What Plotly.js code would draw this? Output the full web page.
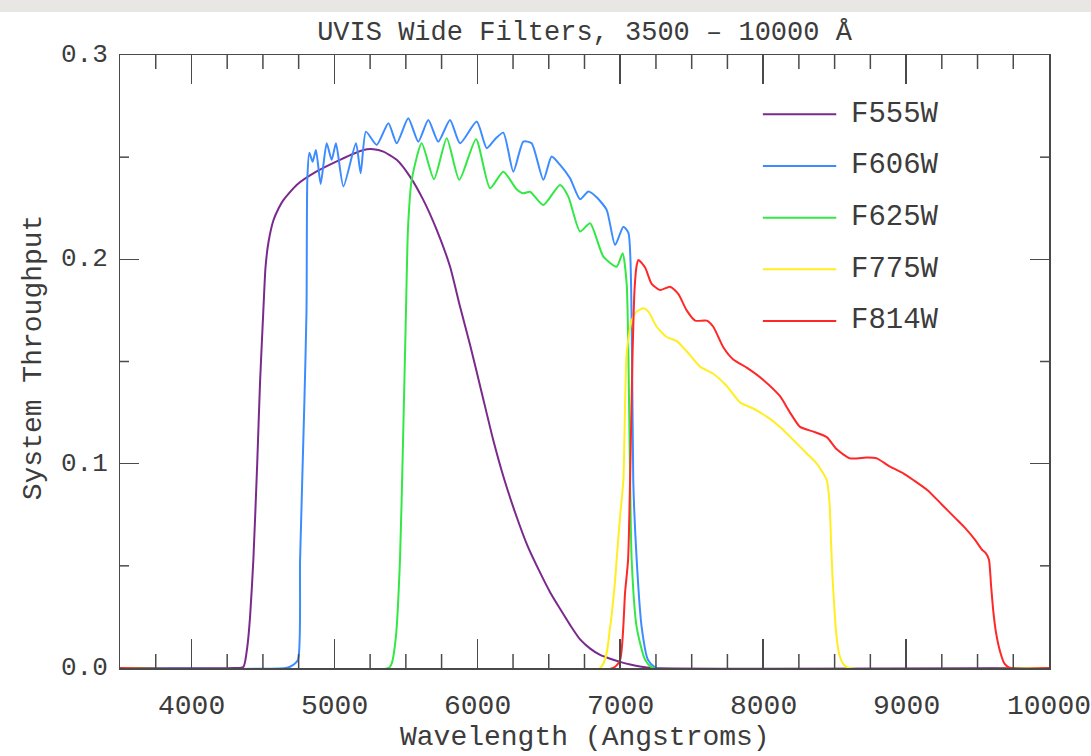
<!DOCTYPE html>
<html>
<head>
<meta charset="utf-8">
<script src="https://cdn.plot.ly/plotly-3.0.1.min.js"></script>
<style>html,body{margin:0;padding:0;background:#fff;}</style>
</head>
<body>
<div id="chart" style="width:1091px;height:756px;"></div>
<script>
// ---- data ----
const names = ["F555W", "F606W", "F625W", "F775W", "F814W"];
const colors = ["#7a2a8c", "#3d8cff", "#33e845", "#ffee22", "#ff2828"];

const f555w_wl = [3500, 4300, 4363, 4390, 4410, 4433, 4460, 4480, 4503, 4518, 4538, 4573, 4610, 4643, 4736, 4876, 5039, 5203, 5273, 5343, 5436, 5529, 5622, 5716, 5809, 5879, 5950, 6030, 6110, 6190, 6270, 6350, 6430, 6510, 6579, 6650, 6719, 6790, 6859, 6930, 6999, 7070, 7139, 7229, 10000];
const f555w_t  = [0, 0, 0.0005, 0.01, 0.025, 0.053, 0.10, 0.14, 0.175, 0.196, 0.208, 0.219, 0.225, 0.229, 0.2364, 0.2430, 0.2487, 0.2535, 0.2539, 0.2527, 0.2487, 0.2405, 0.2291, 0.2144, 0.1965, 0.1769, 0.158, 0.135, 0.112, 0.092, 0.075, 0.060, 0.048, 0.037, 0.029, 0.021, 0.014, 0.0095, 0.0064, 0.0045, 0.003, 0.0017, 0.0007, 0, 0];

const f606w_wl = [3500, 4660, 4700, 4745, 4760, 4790, 4805, 4811, 4825, 4848, 4871, 4904, 4946, 4981, 5011, 5063, 5151, 5184, 5221, 5296, 5378, 5436, 5517, 5587, 5657, 5727, 5809, 5879, 5996, 6066, 6124, 6182, 6252, 6322, 6380, 6462, 6520, 6579, 6649, 6719, 6777, 6835, 6905, 6964, 7022, 7057, 7080, 7091, 7115, 7150, 7194, 7255, 10000];
const f606w_t  = [0, 0, 0.001, 0.004, 0.053, 0.13, 0.175, 0.24, 0.2522, 0.2478, 0.2535, 0.2369, 0.2568, 0.2487, 0.2568, 0.2356, 0.2568, 0.2421, 0.2625, 0.256, 0.2666, 0.2568, 0.2690, 0.2576, 0.2682, 0.2576, 0.2682, 0.2568, 0.2674, 0.2544, 0.2588, 0.2620, 0.2429, 0.2576, 0.2568, 0.2389, 0.2503, 0.2462, 0.2397, 0.2294, 0.2332, 0.2304, 0.2242, 0.2070, 0.2160, 0.213, 0.170, 0.092, 0.053, 0.02, 0.004, 0, 0];

const f625w_wl = [3500, 5380, 5400, 5430, 5459, 5480, 5501, 5515, 5541, 5611, 5697, 5786, 5874, 5991, 6089, 6182, 6275, 6322, 6369, 6462, 6579, 6637, 6719, 6789, 6882, 6975, 7017, 7045, 7057, 7069, 7080, 7115, 7174, 7229, 10000];
const f625w_t  = [0, 0, 0.002, 0.015, 0.053, 0.11, 0.175, 0.215, 0.2389, 0.2568, 0.2392, 0.2593, 0.2389, 0.2588, 0.2348, 0.2429, 0.2343, 0.2323, 0.2331, 0.2266, 0.2364, 0.2307, 0.2136, 0.2177, 0.2013, 0.1964, 0.2030, 0.188, 0.154, 0.092, 0.053, 0.02, 0.004, 0, 0];

const f775w_wl = [3500, 6859, 6929, 6964, 6975, 7000, 7022, 7045, 7080, 7115, 7162, 7197, 7255, 7325, 7395, 7465, 7558, 7651, 7745, 7838, 7931, 8025, 8118, 8211, 8305, 8375, 8445, 8465, 8475, 8485, 8495, 8510, 8530, 8560, 8602, 10000];
const f775w_t  = [0, 0, 0.02, 0.043, 0.053, 0.075, 0.092, 0.154, 0.170, 0.1744, 0.176, 0.1744, 0.167, 0.162, 0.160, 0.155, 0.1475, 0.144, 0.138, 0.130, 0.127, 0.123, 0.118, 0.1116, 0.105, 0.100, 0.092, 0.080, 0.062, 0.045, 0.033, 0.018, 0.0075, 0.002, 0, 0];

const f814w_wl = [3500, 6950, 6999, 7034, 7055, 7069, 7085, 7100, 7115, 7127, 7174, 7220, 7279, 7349, 7407, 7465, 7524, 7605, 7651, 7721, 7791, 7885, 8001, 8118, 8188, 8258, 8351, 8445, 8515, 8608, 8725, 8795, 8888, 8981, 9051, 9150, 9250, 9350, 9420, 9480, 9530, 9560, 9580, 9595, 9610, 9630, 9660, 9690, 9730, 10000];
const f814w_t  = [0, 0, 0.004, 0.037, 0.053, 0.092, 0.15, 0.185, 0.197, 0.1997, 0.196, 0.188, 0.185, 0.1866, 0.183, 0.175, 0.170, 0.170, 0.167, 0.157, 0.151, 0.147, 0.141, 0.133, 0.125, 0.118, 0.1157, 0.113, 0.107, 0.1026, 0.103, 0.1026, 0.0985, 0.0953, 0.092, 0.087, 0.080, 0.073, 0.068, 0.063, 0.058, 0.056, 0.053, 0.040, 0.028, 0.017, 0.0075, 0.002, 0, 0];

const xTickVals = [4000, 5000, 6000, 7000, 8000, 9000, 10000];
const xTickText = ["4000", "5000", "6000", "7000", "8000", "9000", "10000"];
const yTickVals = [0.0, 0.1, 0.2, 0.3];
const yTickText = ["0.0", "0.1", "0.2", "0.3"];
const xMinorTicks = [3750, 4250, 4500, 4750, 5250, 5500, 5750, 6250, 6500, 6750, 7250, 7500, 7750, 8250, 8500, 8750, 9250, 9500, 9750];
const yMinorTicks = [0.05, 0.15, 0.25];
const titleText = "UVIS Wide Filters, 3500 \u2013 10000 \u00C5";
const xTitle = "Wavelength (Angstroms)";
const yTitle = "System Throughput";

// ---- build ----
const wls = [f555w_wl, f606w_wl, f625w_wl, f775w_wl, f814w_wl];
const ts = [f555w_t, f606w_t, f625w_t, f775w_t, f814w_t];

const traces = names.map((n, i) => ({
  type: "scatter", mode: "lines", name: n,
  x: wls[i], y: ts[i],
  line: {color: colors[i], width: 2, shape: "spline", smoothing: 0.6},
  showlegend: false, hoverinfo: "skip"
}));

const FONT = "Liberation Mono, DejaVu Sans Mono, monospace";
const TXT = "#3c3c3c";
const AX = "#4a4a4a";

const shapes = [{
  type: "rect", xref: "paper", yref: "paper",
  x0: -0.2, x1: 1.1, y0: 1.0701, y1: 1.1,
  fillcolor: "#e9e7e4", line: {width: 0}, layer: "below"
}];
const annotations = [];

// minor tick marks (inside, on all four sides)
const xMinLen = 14 / 613, yMinLen = 9 / 929;
xMinorTicks.forEach(v => {
  shapes.push({type: "line", xref: "x", yref: "paper", x0: v, x1: v, y0: 0, y1: xMinLen, line: {color: AX, width: 1.5}});
  shapes.push({type: "line", xref: "x", yref: "paper", x0: v, x1: v, y0: 1, y1: 1 - xMinLen, line: {color: AX, width: 1.5}});
});
yMinorTicks.forEach(v => {
  shapes.push({type: "line", xref: "paper", yref: "y", x0: 0, x1: yMinLen, y0: v, y1: v, line: {color: AX, width: 1.5}});
  shapes.push({type: "line", xref: "paper", yref: "y", x0: 1, x1: 1 - yMinLen, y0: v, y1: v, line: {color: AX, width: 1.5}});
});

// legend drawn as layout shapes + annotations (paper coords)
const legY0 = 0.9033, legStep = 0.0843;
names.forEach((n, i) => {
  const y = legY0 - i * legStep;
  shapes.push({type: "line", xref: "paper", yref: "paper",
    x0: 0.692, x1: 0.771, y0: y, y1: y,
    line: {color: colors[i], width: 2}});
  annotations.push({xref: "paper", yref: "paper", x: 0.785, y: y,
    xanchor: "left", yanchor: "middle", showarrow: false, text: n,
    font: {family: FONT, size: 29, color: TXT}});
});

// tick labels placed at the axis values
xTickVals.forEach((v, i) => annotations.push({
  xref: "x", yref: "paper", x: v, y: -0.0636, xanchor: "center", yanchor: "middle",
  showarrow: false, text: xTickText[i], font: {family: FONT, size: 28, color: TXT}
}));
yTickVals.forEach((v, i) => annotations.push({
  xref: "paper", yref: "y", x: -0.0108, y: v, xanchor: "right", yanchor: "middle",
  showarrow: false, text: yTickText[i], font: {family: FONT, size: 26, color: TXT}
}));
// axis titles
annotations.push({xref: "paper", yref: "paper", x: 0.5, y: -0.1126,
  xanchor: "center", yanchor: "middle", showarrow: false, text: xTitle,
  font: {family: FONT, size: 28, color: TXT}});
annotations.push({xref: "paper", yref: "paper", x: -0.0936, y: 0.507,
  xanchor: "center", yanchor: "middle", showarrow: false, text: yTitle, textangle: -90,
  font: {family: FONT, size: 28, color: TXT}});

const layout = {
  width: 1091, height: 756,
  margin: {l: 120, r: 42, t: 55, b: 88, pad: 0},
  paper_bgcolor: "#ffffff", plot_bgcolor: "#ffffff",
  font: {family: FONT, color: TXT},
  title: {text: titleText, x: 0.5, xref: "paper", xanchor: "center",
          y: 0.960, yref: "container", yanchor: "middle",
          font: {family: FONT, size: 27, color: TXT}},
  xaxis: {
    range: [3500, 10000], tickmode: "array", tickvals: xTickVals,
    ticks: "inside", ticklen: 29, tickwidth: 1.5, tickcolor: AX,
    showline: true, linecolor: AX, linewidth: 1.5, mirror: "ticks",
    showgrid: false, zeroline: false, showticklabels: false, fixedrange: true
  },
  yaxis: {
    range: [0, 0.3], tickmode: "array", tickvals: yTickVals,
    ticks: "inside", ticklen: 19, tickwidth: 1.5, tickcolor: AX,
    showline: true, linecolor: AX, linewidth: 1.5, mirror: "ticks",
    showgrid: false, zeroline: false, showticklabels: false, fixedrange: true
  },
  shapes: shapes,
  annotations: annotations
};

Plotly.newPlot("chart", traces, layout, {displayModeBar: false, staticPlot: true});
</script>
</body>
</html>
